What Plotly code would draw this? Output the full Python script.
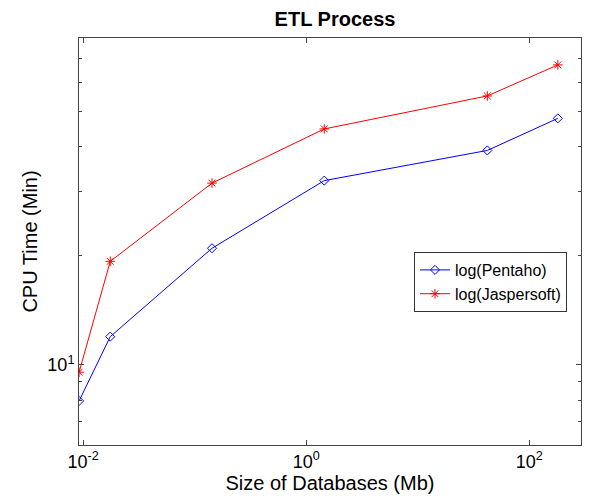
import plotly.graph_objects as go

sizes_mb = [0.0092, 0.0175, 0.143, 1.45, 42.0, 180.0]
pentaho = [7.96, 11.97, 20.97, 32.2, 39.0, 47.8]
jaspersoft = [9.55, 19.3, 31.7, 44.7, 55.1, 67.1]

x_tickvals = [0.01, 1, 100]
x_ticktext = ["10<sup>-2</sup>", "10<sup>0</sup>", "10<sup>2</sup>"]
y_tickvals = [10]
y_ticktext = ["10<sup>1</sup>"]
y_minor = [6, 7, 8, 9, 20, 30, 40, 50, 60, 70, 80]

# page body adds an 8px offset; compensate in margins
OFF = 8
W, H = 595, 502
FONT = "Liberation Sans, Arial"

fig = go.Figure()
fig.add_trace(go.Scatter(
    x=sizes_mb, y=pentaho, mode="lines+markers", name="log(Pentaho)",
    line=dict(color="#0000ff", width=1),
    marker=dict(symbol="diamond-open", size=7, color="#0000ff", line=dict(width=1)),
))
fig.add_trace(go.Scatter(
    x=sizes_mb, y=jaspersoft, mode="lines+markers", name="log(Jaspersoft)",
    line=dict(color="#ff0000", width=1),
    marker=dict(symbol="asterisk-open", size=8, color="#ff0000", line=dict(width=1, color="#ff0000")),
))

axis_common = dict(
    showgrid=False, zeroline=False, showline=True, linecolor="#444", linewidth=1,
    mirror="ticks", ticks="inside", ticklen=5, tickcolor="#444", automargin=False,
    tickfont=dict(family=FONT, size=18, color="black"),
)

fig.update_layout(
    width=W, height=H,
    margin=dict(l=79 - OFF, r=14 + OFF, t=38 - OFF, b=57 + OFF),
    paper_bgcolor="white", plot_bgcolor="white",
    title=dict(text="<b>ETL Process</b>", x=(335 - OFF) / W, xanchor="center",
               y=1 - (18.5 - OFF) / H, yanchor="middle",
               font=dict(family=FONT, size=20, color="black")),
    xaxis=dict(type="log", range=[-2.037, 2.463], tickmode="array",
               tickvals=x_tickvals, ticktext=x_ticktext,
               title=dict(text="Size of Databases (Mb)", standoff=4,
                          font=dict(family=FONT, size=20, color="black")),
               **axis_common),
    yaxis=dict(type="log", range=[0.7796, 1.9008], tickmode="array",
               tickvals=y_tickvals, ticktext=y_ticktext,
               minor=dict(tickmode="array", tickvals=y_minor, ticks="inside", ticklen=3, tickcolor="#444"),
               title=dict(text="CPU Time (Min)", standoff=4,
                          font=dict(family=FONT, size=20, color="black")),
               **axis_common),
    legend=dict(x=(414 - 79) / 502, y=(445 - 252) / 407, xanchor="left", yanchor="top",
                bgcolor="white", bordercolor="#333", borderwidth=1,
                font=dict(family=FONT, size=16, color="black"),
                tracegroupgap=0, itemwidth=30),
    showlegend=True,
)

fig.write_html("out.html")
